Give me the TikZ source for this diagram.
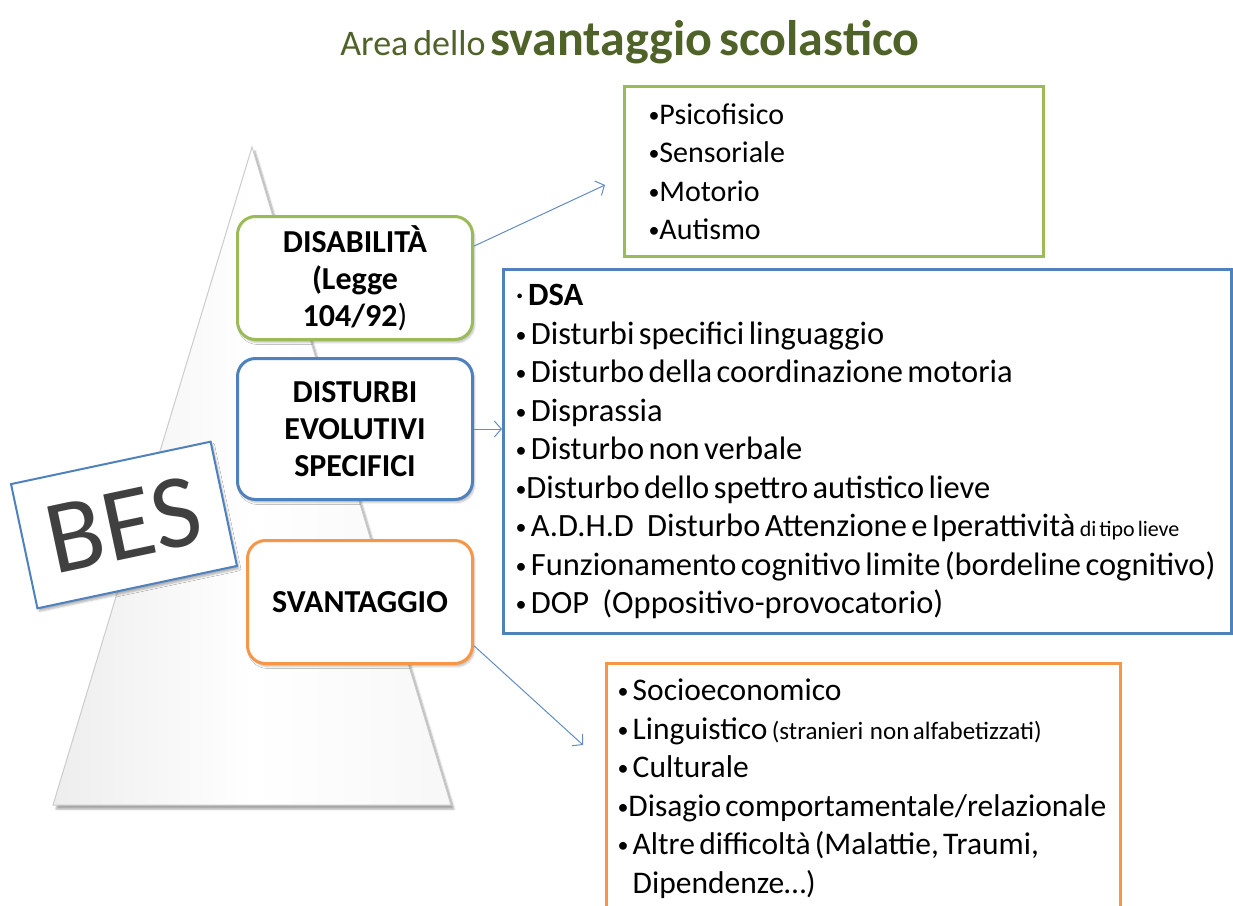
\documentclass[tikz,border=0pt]{standalone}
\usepackage{fontspec}
\setmainfont{Carlito}[WordSpace=0.6]
\usetikzlibrary{calc, arrows.meta, shadows.blur}

\definecolor{verde}{RGB}{155,187,89}
\definecolor{blu}{RGB}{79,129,189}
\definecolor{arancio}{RGB}{247,150,70}
\definecolor{titolo}{RGB}{79,98,40}
\definecolor{grigio}{RGB}{64,64,64}
\definecolor{freccia}{RGB}{100,140,195}

\tikzset{
  areabox/.style={draw=#1, line width=3pt, rounded corners=18pt, fill=white,
    align=center, font=\bfseries\fontsize{32}{37}\selectfont,
    blur shadow={shadow xshift=2pt, shadow yshift=-3pt, shadow opacity=25}},
  listbox/.style={draw=#1, line width=3pt, fill=white, anchor=north west,
    align=flush left, inner ysep=0pt, font=\fontsize{31.5}{38.5}\selectfont},
  link/.style={freccia, line width=1pt, -{Straight Barb[length=7pt,width=16pt]}}
}

\begin{document}
\begin{tikzpicture}[x=1pt, y=-1pt]

\newcommand{\piccolo}{\fontsize{25}{25}\selectfont}
\newcommand{\minuto}{\fontsize{22}{22}\selectfont}
\newcommand{\punto}{{\fontsize{22}{22}\selectfont\raisebox{2pt}{•}}}

\useasboundingbox (0,0) rectangle (1233,905);

% piramide
\coordinate (apice) at (252,147);
\coordinate (baseSx) at (53,805);
\coordinate (baseDx) at (451,805);
\path [blur shadow={shadow xshift=3pt, shadow yshift=-4pt, shadow opacity=35},
  left color=gray!14, right color=gray!6, middle color=white]
  (apice) -- (baseDx) -- (baseSx) -- cycle;
\draw [gray!40, line width=1pt] (apice) -- (baseDx) -- (baseSx) -- cycle;

\node [titolo, anchor=base] (titolo) at (630,55)
  {{\fontsize{36}{40}\selectfont Area dello }{\bfseries\fontsize{50}{56}\selectfont svantaggio scolastico}};

\node [areabox=verde, minimum width=235pt, minimum height=123pt] (disab) at (355,278)
  {DISABILITÀ\\(Legge\\104/92{\mdseries)}};
\node [areabox=blu, minimum width=235pt, minimum height=141pt] (disturbi) at (355,429)
  {DISTURBI\\EVOLUTIVI\\SPECIFICI};
\node [areabox=arancio, minimum width=225pt, minimum height=123pt] (svant) at (360,602)
  {SVANTAGGIO};

\node [draw=blu, line width=2pt, fill=white, rotate=12, minimum width=204pt,
  minimum height=127pt, text=grigio, font=\fontsize{105}{105}\selectfont,
  blur shadow={shadow xshift=2pt, shadow yshift=-3pt, shadow opacity=30}] (bes) at (124,525) {BES};

\node [listbox=verde, inner xsep=24pt, text width=371pt, minimum height=170pt,
  font=\fontsize{30}{38.5}\selectfont] (fisici) at (623,85)
  {\punto Psicofisico\\\punto Sensoriale\\\punto Motorio\\\punto Autismo};

\node [listbox=blu, inner xsep=12pt, text width=704pt, minimum height=364pt,
  font=\fontsize{32.5}{38.5}\selectfont] (dsa) at (502,268)
  {· \textbf{DSA}\\
   \punto\ Disturbi specifici linguaggio\\
   \punto\ Disturbo della coordinazione motoria\\
   \punto\ Disprassia\\
   \punto\ Disturbo non verbale\\
   \punto Disturbo dello spettro autistico lieve\\
   \punto\ A.D.H.D\ \ \ Disturbo Attenzione e Iperattività {\minuto di tipo lieve}\\
   \punto\ Funzionamento cognitivo limite (bordeline cognitivo)\\
   \punto\ DOP\ \ \ (Oppositivo-provocatorio)};

\node [listbox=arancio, inner xsep=11pt, text width=492pt, minimum height=250pt] (sociali) at (605,662)
  {\punto\ Socioeconomico\\
   \punto\ Linguistico {\piccolo(stranieri\ \ non alfabetizzati)}\\
   \punto\ Culturale\\
   \punto Disagio comportamentale/relazionale\\
   \punto\ Altre difficoltà (Malattie, Traumi,\\
   \phantom{\punto\ }Dipendenze…)};

% frecce
\coordinate (versoFisici) at (605,185);
\coordinate (versoSociali) at (583,745);
\draw [link] (disab.15) -- (versoFisici);
\draw [link] (disturbi.east) -- (disturbi.east -| dsa.west);
\draw [link] (svant.-21) -- (versoSociali);

\end{tikzpicture}
\end{document}
